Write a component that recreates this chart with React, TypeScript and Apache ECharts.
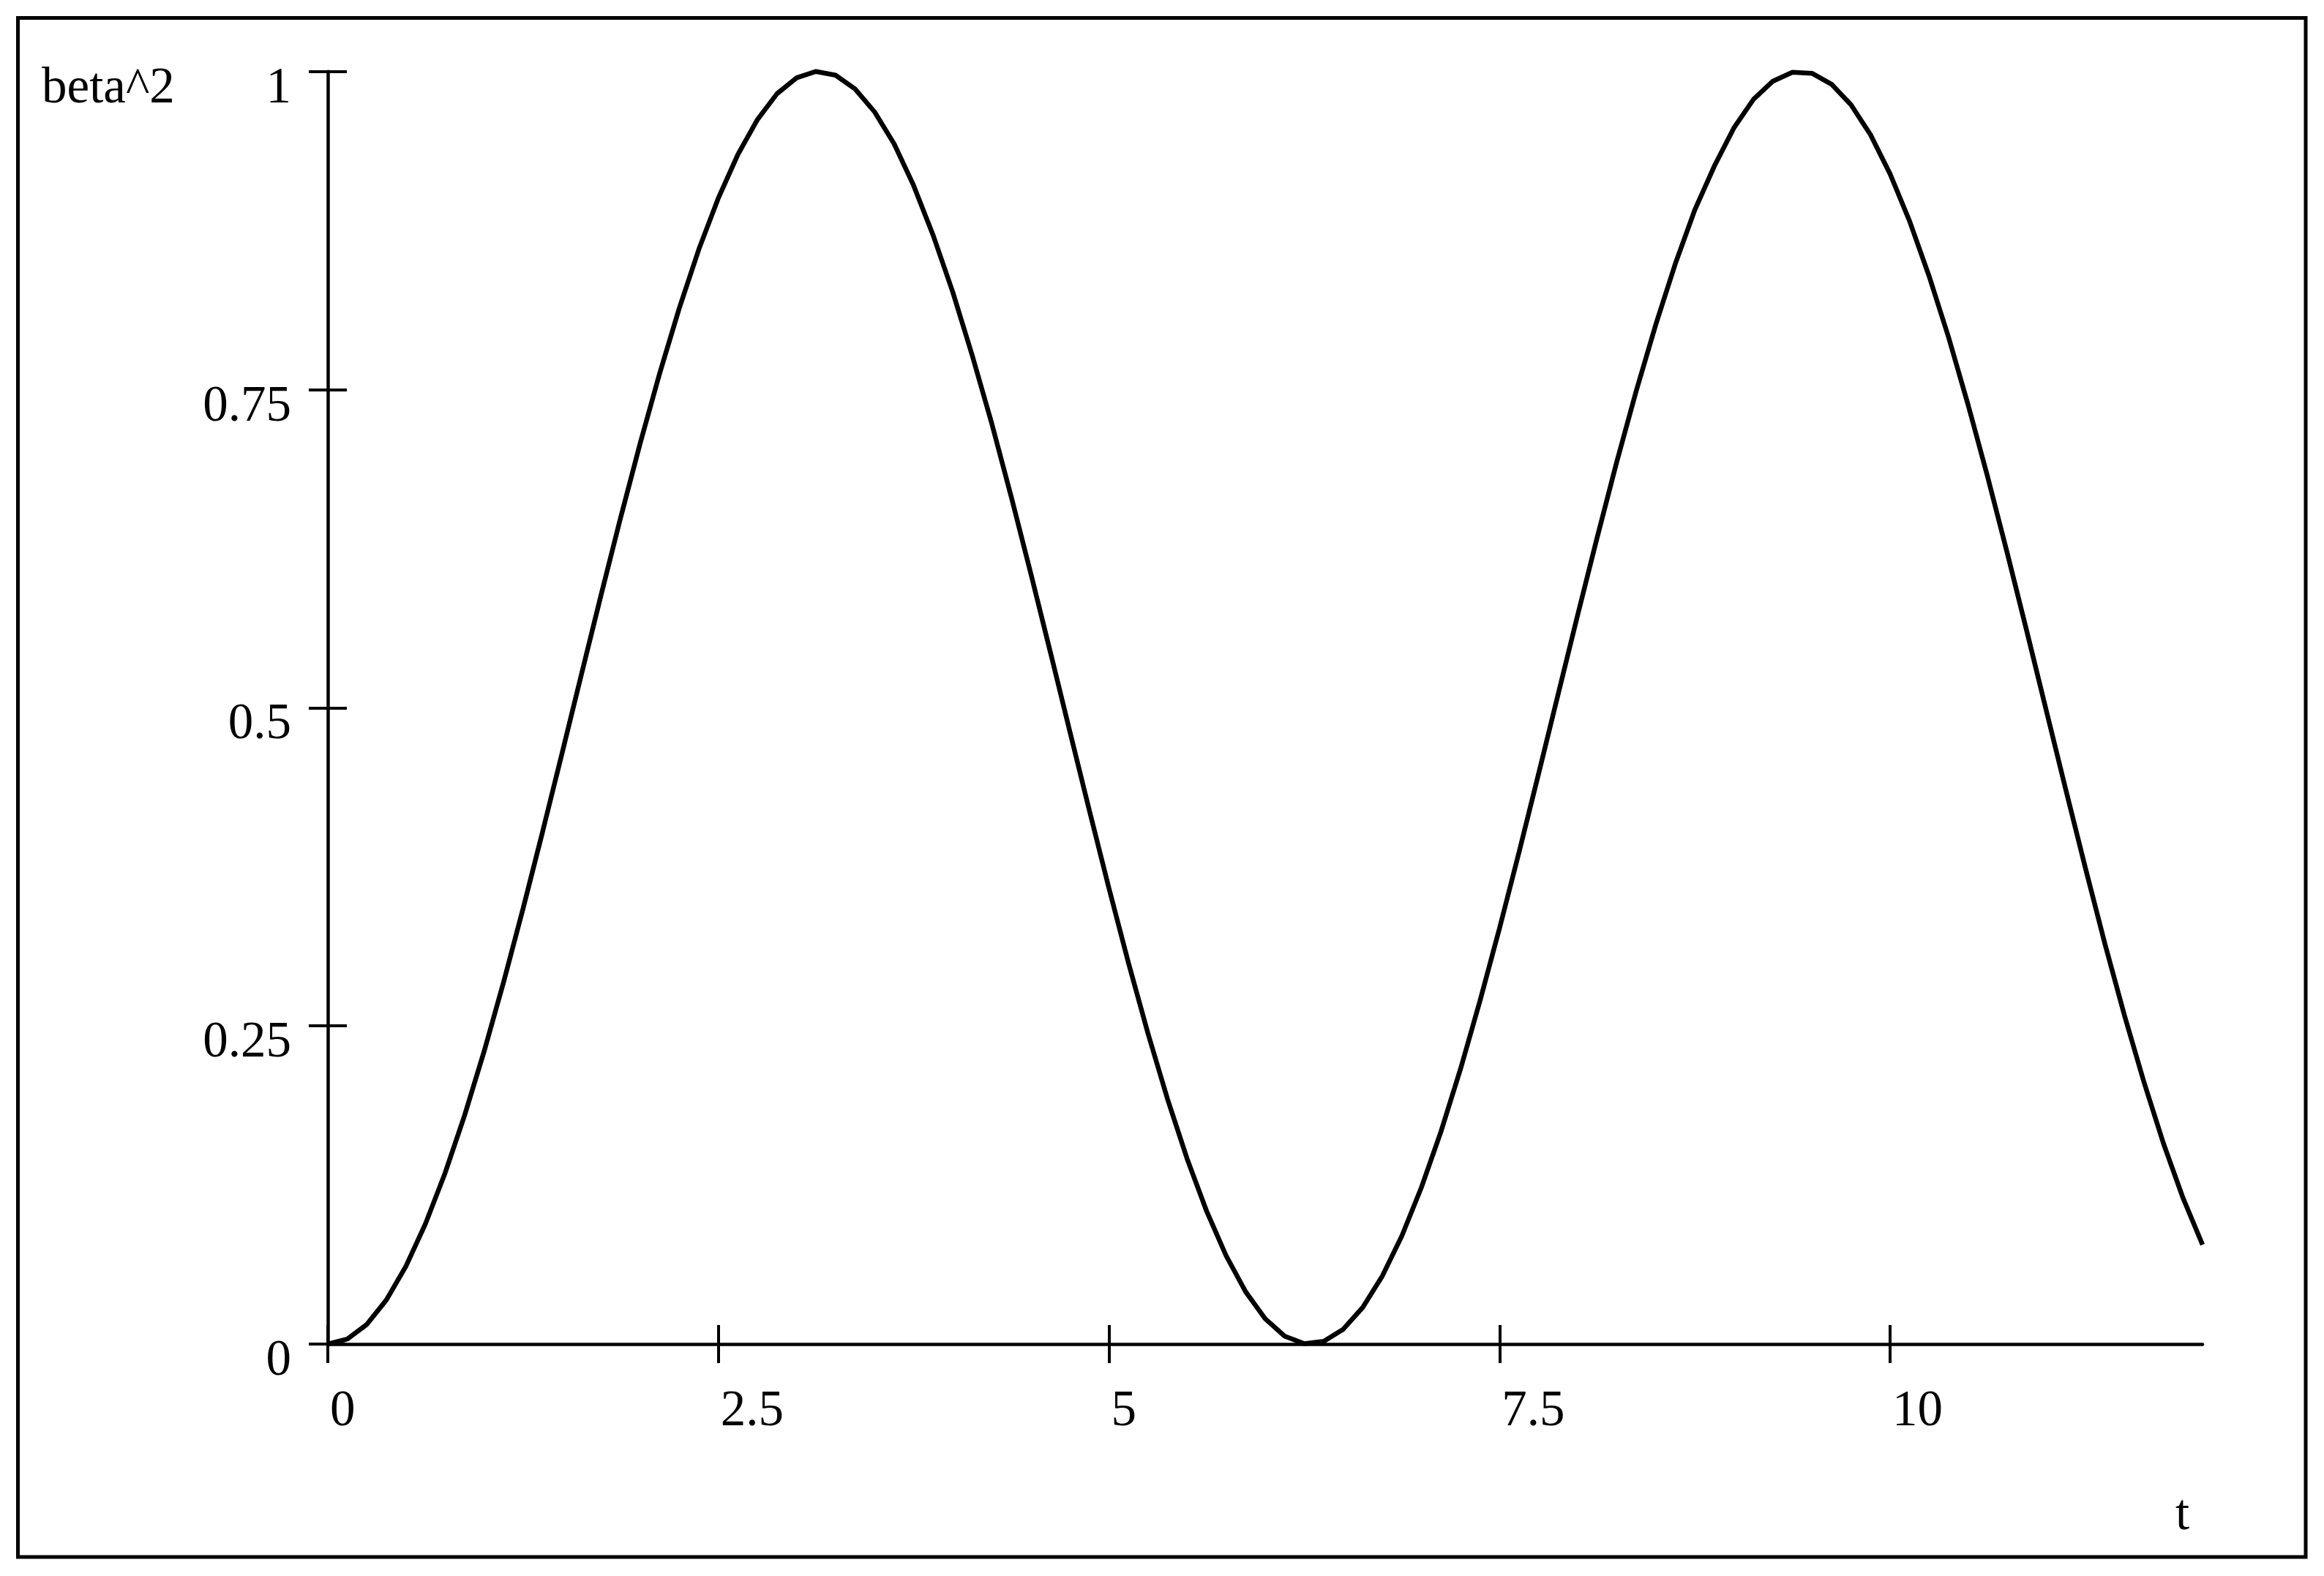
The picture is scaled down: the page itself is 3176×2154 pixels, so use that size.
import React, { useEffect, useRef } from "react";
import * as echarts from "echarts";

const T_VALUES = [
  0, 0.125, 0.25, 0.375, 0.5, 0.625, 0.75, 0.875, 1, 1.125, 1.25, 1.375, 1.5, 1.625, 1.75, 1.875,
  2, 2.125, 2.25, 2.375, 2.5, 2.625, 2.75, 2.875, 3, 3.125, 3.25, 3.375, 3.5, 3.625, 3.75, 3.875,
  4, 4.125, 4.25, 4.375, 4.5, 4.625, 4.75, 4.875, 5, 5.125, 5.25, 5.375, 5.5, 5.625, 5.75, 5.875,
  6, 6.125, 6.25, 6.375, 6.5, 6.625, 6.75, 6.875, 7, 7.125, 7.25, 7.375, 7.5, 7.625, 7.75, 7.875,
  8, 8.125, 8.25, 8.375, 8.5, 8.625, 8.75, 8.875, 9, 9.125, 9.25, 9.375, 9.5, 9.625, 9.75, 9.875,
  10, 10.125, 10.25, 10.375, 10.5, 10.625, 10.75, 10.875, 11, 11.125, 11.25, 11.375, 11.5, 11.625, 11.75, 11.875,
  12,
];

const BETA2_VALUES = [
  0, 0.0039, 0.0155, 0.0347, 0.0612, 0.0945, 0.1342, 0.1795, 0.2298, 0.2844, 0.3423, 0.4027, 0.4646, 0.5271, 0.5891, 0.6498,
  0.7081, 0.7631, 0.8141, 0.8603, 0.9006, 0.9348, 0.9622, 0.9825, 0.995, 1.0, 0.9971, 0.9862, 0.9682, 0.9431, 0.9103, 0.8712,
  0.8268, 0.7768, 0.7233, 0.6656, 0.6054, 0.5437, 0.4812, 0.4191, 0.3582, 0.2995, 0.244, 0.1925, 0.1457, 0.1045, 0.0694, 0.0411,
  0.0199, 0.0062, 0.0003, 0.0021, 0.0117, 0.0289, 0.0535, 0.085, 0.1231, 0.1669, 0.216, 0.2697, 0.3267, 0.3865, 0.4481, 0.5105,
  0.5728, 0.6338, 0.693, 0.7489, 0.801, 0.8488, 0.8912, 0.9256, 0.9556, 0.978, 0.9924, 0.9994, 0.9986, 0.99, 0.9738, 0.9502,
  0.9195, 0.8824, 0.8391, 0.7909, 0.7378, 0.6812, 0.6216, 0.5602, 0.4978, 0.4355, 0.3742, 0.3146, 0.2584, 0.2059, 0.1576, 0.1148,
  0.0781,
];

const X_TICKS = [0, 2.5, 5, 7.5, 10];
const Y_TICKS = [0, 0.25, 0.5, 0.75, 1];
const X_NAME = "t";
const Y_NAME = "beta^2";

const W = 3176;
const H = 2154;
const FONT = '"Liberation Serif", "Times New Roman", serif';
const FS = 69;

export default function App() {
  const ref = useRef<HTMLDivElement>(null);

  useEffect(() => {
    if (!ref.current) return;
    const chart = echarts.init(ref.current, undefined, { renderer: "svg" });
    const data = T_VALUES.map((t, i) => [t, BETA2_VALUES[i]]);

    const tickLen = 26;
    const axisColor = "#000";
    const tickStyle = { color: axisColor, width: 4 };

    const baseX = {
      type: "value",
      min: 0,
      max: 12,
      position: "bottom",
      splitLine: { show: false },
    };
    const baseY = {
      type: "value",
      min: 0,
      max: 1,
      position: "left",
      splitLine: { show: false },
    };

    chart.setOption({
      animation: false,
      backgroundColor: "#fff",
      grid: { left: 448, top: 97.7, width: 2562, height: 1739.3, containLabel: false },
      xAxis: [
        {
          ...baseX,
          axisLine: { show: true, onZero: false, lineStyle: { color: axisColor, width: 4.5 } },
          axisTick: { show: true, inside: false, length: tickLen, customValues: X_TICKS, lineStyle: tickStyle },
          axisLabel: {
            show: true,
            customValues: X_TICKS,
            align: "left",
            verticalAlign: "middle",
            margin: 88,
            padding: [0, 0, 0, 3],
            color: "#000",
            fontFamily: FONT,
            fontSize: FS,
            lineHeight: FS,
          },
        },
        {
          ...baseX,
          axisLine: { show: false, onZero: false },
          axisTick: { show: true, inside: true, length: tickLen, customValues: X_TICKS, lineStyle: tickStyle },
          axisLabel: { show: false },
        },
      ],
      yAxis: [
        {
          ...baseY,
          axisLine: { show: true, onZero: false, lineStyle: { color: axisColor, width: 4.5 } },
          axisTick: { show: true, inside: false, length: tickLen, customValues: Y_TICKS, lineStyle: tickStyle },
          axisLabel: {
            show: true,
            customValues: Y_TICKS,
            align: "right",
            verticalAlign: "top",
            margin: 50,
            color: "#000",
            fontFamily: FONT,
            fontSize: FS,
            lineHeight: 38,
          },
        },
        {
          ...baseY,
          axisLine: { show: false, onZero: false },
          axisTick: { show: true, inside: true, length: tickLen, customValues: Y_TICKS, lineStyle: tickStyle },
          axisLabel: { show: false },
        },
      ],
      graphic: [
        {
          type: "rect",
          shape: { x: 24.5, y: 24.5, width: 3126.5, height: 2103.5 },
          style: { fill: "none", stroke: "#000", lineWidth: 5 },
          silent: true,
        },
        {
          type: "text",
          x: 57,
          y: 117,
          style: {
            text: Y_NAME,
            fill: "#000",
            font: `${FS}px ${FONT}`,
            textAlign: "left",
            textVerticalAlign: "middle",
          },
        },
        {
          type: "text",
          x: 2973,
          y: 2067,
          style: {
            text: X_NAME,
            fill: "#000",
            font: `${FS}px ${FONT}`,
            textAlign: "left",
            textVerticalAlign: "middle",
          },
        },
      ],
      series: [
        {
          type: "line",
          xAxisIndex: 0,
          yAxisIndex: 0,
          data,
          showSymbol: false,
          symbol: "none",
          smooth: false,
          clip: false,
          lineStyle: { color: "#000", width: 6.5 },
        },
      ],
    });

    return () => chart.dispose();
  }, []);

  return (
    <div
      ref={ref}
      style={{ position: "absolute", left: 0, top: 0, width: W, height: H, background: "#fff" }}
    />
  );
}
